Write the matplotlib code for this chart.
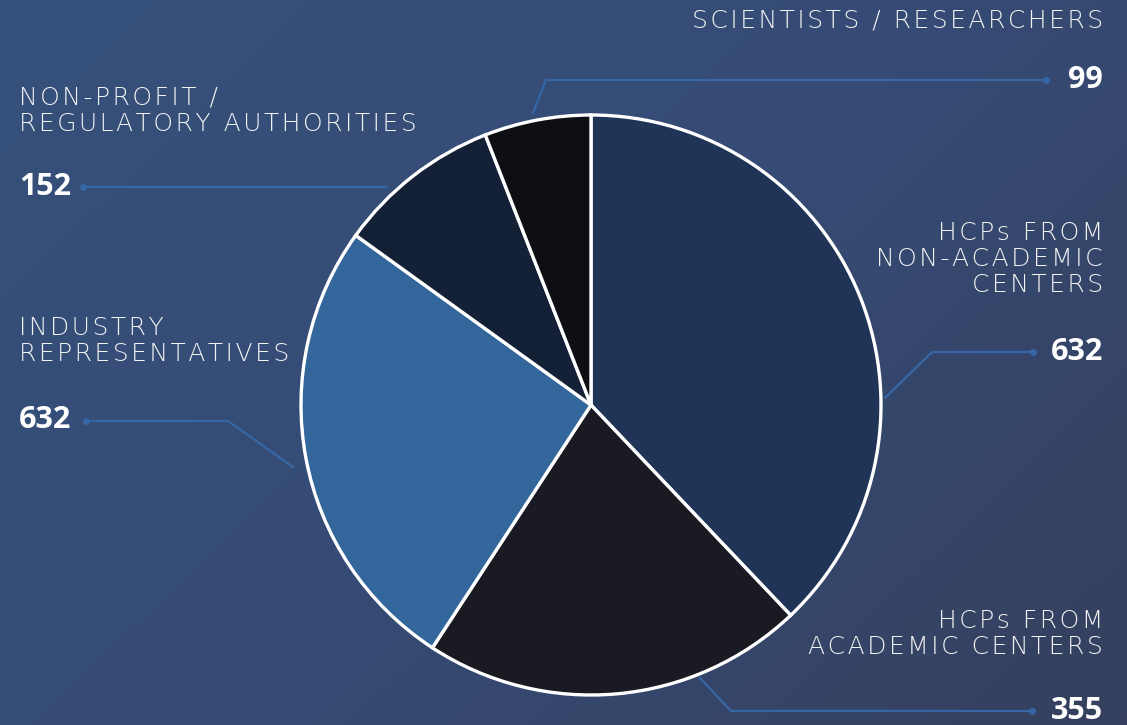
import numpy as np
import matplotlib
matplotlib.use("Agg")
import matplotlib.pyplot as plt
from matplotlib.colors import LinearSegmentedColormap

# ---- data ----
categories = ["HCPs FROM\nNON-ACADEMIC\nCENTERS", "HCPs FROM\nACADEMIC CENTERS",
              "INDUSTRY\nREPRESENTATIVES", "NON-PROFIT /\nREGULATORY AUTHORITIES",
              "SCIENTISTS / RESEARCHERS"]
slice_values = [632, 355, 429, 152, 99]          # sizes as drawn in the pie
value_labels = ["632", "355", "632", "152", "99"]  # numbers as printed
colors = ["#1f3456", "#191a22", "#33669b", "#142035", "#0e0f13"]

W, H = 1127, 725
fig = plt.figure(figsize=(W / 100, H / 100), dpi=100)
ax = fig.add_axes([0, 0, 1, 1])

# background gradient
yy, xx = np.mgrid[0:1:200j, 0:1:300j]
t = (xx * 0.6 + yy * 0.4)
bg = LinearSegmentedColormap.from_list("bg", ["#35517b", "#354b75", "#36405e"])
ax.imshow(t, cmap=bg, extent=[0, W, 0, H], origin="upper", aspect="auto", zorder=0)

cx, cy, r = 591, H - 405, 290
ax.pie(slice_values, colors=colors, startangle=90, counterclock=False,
       center=(cx, cy), radius=r,
       wedgeprops=dict(edgecolor="white", linewidth=2.4, zorder=2))
ax.set_xlim(0, W)
ax.set_ylim(0, H)
ax.set_aspect("equal")
ax.axis("off")

line_c = "#3567a6"
def leader(pts):
    xs = [p[0] for p in pts]
    ys = [H - p[1] for p in pts]
    ax.plot(xs, ys, color=line_c, lw=1.6, solid_capstyle="round", zorder=3)
    ax.plot(xs[-1], ys[-1], "o", color=line_c, ms=4, zorder=3)

HS = "\u200a"
def track(s):
    # wide letter spacing, as in the original typography
    return "\n".join(HS.join(line) for line in s.split("\n"))

lab_kw = dict(color="#f2f2f2", fontsize=18, family="DejaVu Sans", fontweight="light",
              linespacing=1.13, zorder=4)
num_kw = dict(color="white", fontsize=22, family="Open Sans", fontweight="bold", zorder=4)

# non-academic
leader([(885, 398), (932, 352), (1033, 352)])
ax.text(1103, H - 259, track(categories[0]), ha="right", va="center", multialignment="right", **lab_kw)
ax.text(1103, H - 352, value_labels[0], ha="right", va="center", **num_kw)
# academic
leader([(700, 678), (731, 711), (1032, 711)])
ax.text(1103, H - 634, track(categories[1]), ha="right", va="center", multialignment="right", **lab_kw)
ax.text(1103, H - 711, value_labels[1], ha="right", va="center", **num_kw)
# industry
leader([(293, 467), (228, 421), (86, 421)])
ax.text(19, H - 341, track(categories[2]), ha="left", va="center", **lab_kw)
ax.text(19, H - 420, value_labels[2], ha="left", va="center", **num_kw)
# non-profit
leader([(387, 187), (83, 187)])
ax.text(19, H - 111, track(categories[3]), ha="left", va="center", **lab_kw)
ax.text(19, H - 187, value_labels[3], ha="left", va="center", **num_kw)
# scientists
leader([(533, 113), (546, 80), (1046, 80)])
ax.text(1103, H - 20, track(categories[4]), ha="right", va="center", **lab_kw)
ax.text(1103, H - 80, value_labels[4], ha="right", va="center", **num_kw)

fig.savefig("out.png", dpi=100)
